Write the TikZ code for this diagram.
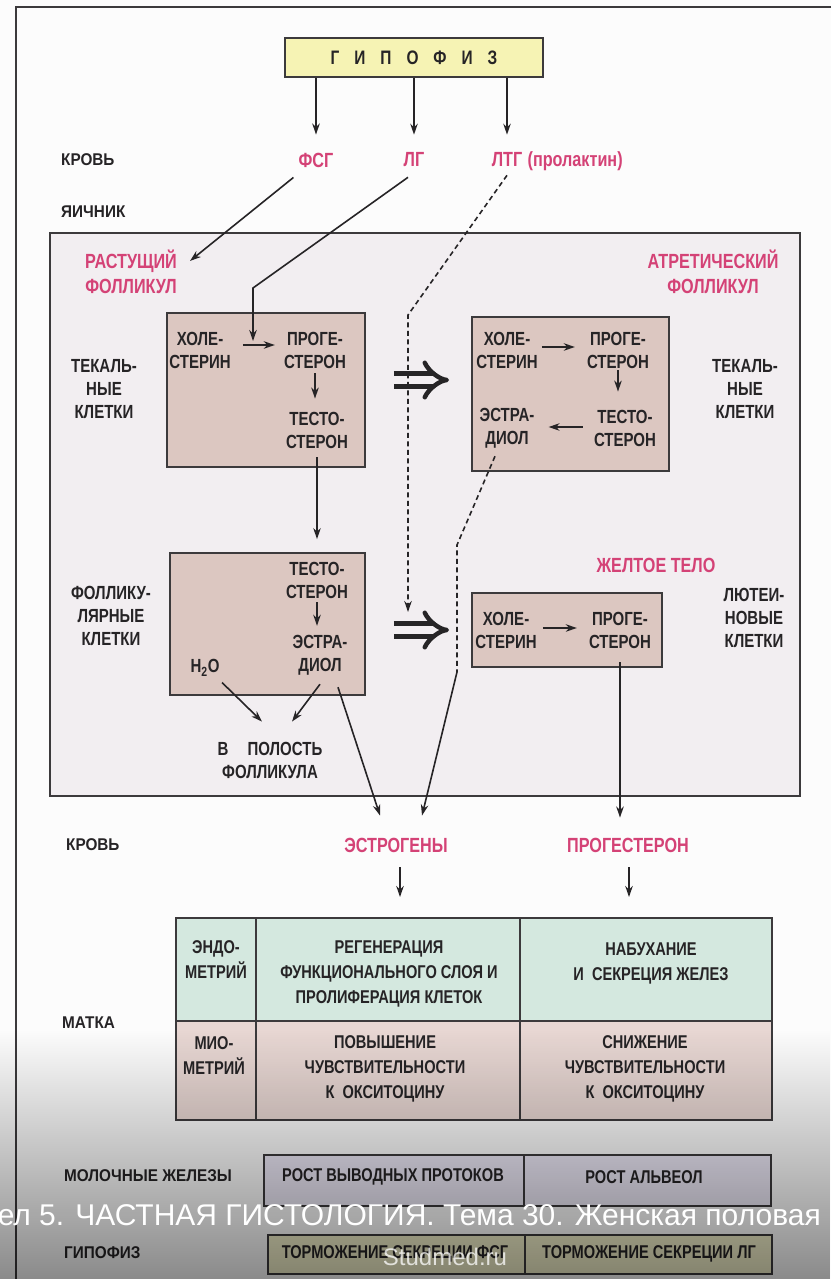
\documentclass[tikz,border=0pt]{standalone}
\usepackage{fontspec}
\setmainfont{Liberation Sans}
\newfontfamily\cond{Liberation Sans}[FakeStretch=0.79]
\newfontfamily\sidef{Liberation Sans}[FakeStretch=0.9]
\usetikzlibrary{arrows.meta,positioning,fadings}

\definecolor{Txt}{RGB}{38,36,38}
\definecolor{Edge}{RGB}{60,58,60}
\definecolor{Pk}{RGB}{212,66,118}
\definecolor{Bg}{RGB}{252,252,252}
\definecolor{Ov}{RGB}{242,238,241}
\definecolor{Cell}{RGB}{220,199,193}
\definecolor{Yel}{RGB}{246,243,180}
\definecolor{Mint}{RGB}{212,232,223}
\definecolor{Rose}{RGB}{232,215,211}
\definecolor{Lav}{RGB}{236,232,246}
\definecolor{Olv}{RGB}{240,238,200}

\newcommand\gap{\hspace{15pt}}

% dark band at the bottom
\tikzfading[name=fadedown, top color=transparent!100, bottom color=transparent!0]

\tikzset{
  lbl/.style={font=\cond\bfseries\fontsize{19}{23}\selectfont, text=Txt, align=center, inner sep=0pt},
  pk/.style={lbl, font=\cond\bfseries\fontsize{20.5}{25}\selectfont, text=Pk},
  side/.style={lbl, font=\sidef\bfseries\fontsize{17}{20}\selectfont, anchor=west},
  cell/.style={lbl, font=\cond\bfseries\fontsize{18.5}{25}\selectfont},
  cellbox/.style={draw=Edge, line width=1.8pt},
  hbox/.style={draw=Edge, line width=1.8pt, fill=Cell, inner sep=0pt},
  arr/.style={line width=1.6pt, draw=Txt, -{Stealth[length=11pt,width=7.5pt]}},
  dsh/.style={line width=1.6pt, draw=Txt, dash pattern=on 5pt off 3.5pt},
  impl/.style={draw=Txt, line width=4.5pt, double=Ov, double distance=8.5pt, -{Implies}},
}

\begin{document}
\begin{tikzpicture}[x=1pt,y=-1pt]
  \clip (0,0) rectangle (831,1279);
  \fill[Bg] (0,0) rectangle (831,1279);
  \draw[Edge, line width=1.6pt] (831,7) -- (16,7) -- (16,1279);

  % pituitary and hormones in blood
  \node[hbox, fill=Yel, minimum width=258pt, minimum height=39pt,
        font=\cond\bfseries\fontsize{19.5}{22}\selectfont, text=Txt] (gip) at (414,57.5)
        {Г\gap И\gap П\gap О\gap Ф\gap И\gap З};
  \node[side] (krovA) at (61,160) {КРОВЬ};
  \node[side] (yaich) at (61,212) {ЯИЧНИК};
  \node[pk] (fsg) at (316,160) {ФСГ};
  \node[pk] (lg) at (414,160) {ЛГ};
  \node[pk] (ltg) at (507,160) {ЛТГ};
  \node[pk, anchor=base west] (prl) at ([xshift=5pt]ltg.base east) {(пролактин)};
  \foreach \h in {fsg,lg,ltg}
    \draw[arr, shorten >=18pt] (gip.south -| \h) -- (\h.north);

  % ovary
  \fill[Ov] (50,233) rectangle (800,796);
  \draw[Edge, line width=1.8pt] (50,233) rectangle (800,796);

  % growing follicle, theca cells
  \node[pk] (rast) at (131,272) {РАСТУЩИЙ\\ФОЛЛИКУЛ};
  \node[lbl] (tekA) at (104,389) {ТЕКАЛЬ-\\НЫЕ\\КЛЕТКИ};
  \node[hbox, minimum width=198pt, minimum height=154pt] (thecaA) at (266,390) {};
  \node[lbl] (cholA) at (200,350) {ХОЛЕ-\\СТЕРИН};
  \node[lbl] (progA) at (315,350) {ПРОГЕ-\\СТЕРОН};
  \node[lbl] (testA) at (317,430) {ТЕСТО-\\СТЕРОН};
  \draw[arr, shorten <=12pt, shorten >=9pt] ([yshift=5pt]cholA.east) -- ([yshift=5pt]progA.west);
  \draw[arr, shorten <=5pt, shorten >=13pt] (progA.south) -- (progA.south |- testA.north);

  % follicular cells
  \node[lbl] (folLbl) at (111,616) {ФОЛЛИКУ-\\ЛЯРНЫЕ\\КЛЕТКИ};
  \node[hbox, minimum width=195pt, minimum height=142pt] (fol) at (267.5,624) {};
  \node[lbl] (testC) at (317,580) {ТЕСТО-\\СТЕРОН};
  \node[lbl] (estrC) at (320,655) {ЭСТРА-\\ДИОЛ};
  \node[lbl] (h2o) at (205,668) {H\textsubscript{2}O};
  \node[lbl] (cav) at (270,760) {В\quad ПОЛОСТЬ\\ФОЛЛИКУЛА};
  \draw[arr, shorten <=4pt, shorten >=9pt] (testC.south) -- (testC.south |- estrC.north);
  \draw[arr, shorten <=9pt, shorten >=13pt] (testA.south) -- (testA.south |- fol.north);
  \draw[arr] ([shift={(17,6)}]h2o.south) -- ([shift={(-8,-20)}]cav.north);
  \draw[arr] ([shift={(0,9)}]estrC.south) -- ([shift={(22,-20)}]cav.north);

  % atretic follicle
  \node[pk] (atr) at (713,272) {АТРЕТИЧЕСКИЙ\\ФОЛЛИКУЛ};
  \node[lbl] (tekB) at (745,389) {ТЕКАЛЬ-\\НЫЕ\\КЛЕТКИ};
  \node[hbox, minimum width=197pt, minimum height=154pt] (thecaB) at (570.5,394) {};
  \node[lbl] (cholB) at (507,350) {ХОЛЕ-\\СТЕРИН};
  \node[lbl] (progB) at (618,350) {ПРОГЕ-\\СТЕРОН};
  \node[lbl] (estrB) at (507,428) {ЭСТРА-\\ДИОЛ};
  \node[lbl] (testB) at (625,428) {ТЕСТО-\\СТЕРОН};
  \draw[arr, shorten <=4pt, shorten >=12pt] ([yshift=3pt]cholB.east) -- ([yshift=3pt]progB.west);
  \draw[arr, shorten <=2pt, shorten >=18pt] (progB.south) -- (progB.south |- testB.north);
  \draw[arr, shorten <=11pt, shorten >=14pt] ([yshift=1pt]testB.west) -- ([yshift=1pt]estrB.east);

  % corpus luteum
  \node[pk] (zhelt) at (656,565) {ЖЕЛТОЕ ТЕЛО};
  \node[lbl] (lutLbl) at (754,618) {ЛЮТЕИ-\\НОВЫЕ\\КЛЕТКИ};
  \node[hbox, minimum width=190pt, minimum height=74pt] (lut) at (567,630) {};
  \node[lbl] (cholC) at (506,630) {ХОЛЕ-\\СТЕРИН};
  \node[lbl] (progC) at (620,630) {ПРОГЕ-\\СТЕРОН};
  \draw[arr, shorten <=6pt, shorten >=12pt] ([yshift=2pt]cholC.east) -- ([yshift=2pt]progC.west);

  % transitions
  \draw[impl, shorten <=28pt, shorten >=22pt] ([yshift=10pt]thecaA.east) -- ([yshift=10pt]thecaA.east -| thecaB.west);
  \draw[impl, shorten <=28pt, shorten >=22pt] ([yshift=-6pt]fol.east) -- ([yshift=-6pt]fol.east -| lut.west);

  % hormones from pituitary into ovary
  \coordinate (lgbend) at (253,288);
  \coordinate (lgin) at (253,341);
  \coordinate (ltgbend) at (408,315);
  \coordinate (ltgend) at (408,612);
  \draw[arr] ([shift={(-5,10)}]fsg.south west) -- ([shift={(13,11)}]rast.north east);
  \draw[arr] ([shift={(-6,10)}]lg.south) -- (lgbend) -- (lgin);
  \draw[dsh, -{Stealth[length=11pt,width=7.5pt]}] ([shift={(0,8)}]ltg.south) -- (ltgbend) -- (ltgend);

  % hormones into blood
  \node[side] (krovB) at (66,845) {КРОВЬ};
  \node[pk] (estro) at (396,845) {ЭСТРОГЕНЫ};
  \node[pk] (progBl) at (628,845) {ПРОГЕСТЕРОН};
  \coordinate (eb1) at (457,545);
  \coordinate (eb2) at (457,672);
  \draw[dsh] ([shift={(-12,8)}]estrB.south) -- (eb1) -- (eb2);
  \draw[arr] (eb2) -- ([shift={(26,-22)}]estro.north);
  \draw[arr] ([shift={(18,12)}]estrC.south) -- ([shift={(-16,-22)}]estro.north);
  \draw[arr, shorten <=14pt, shorten >=20pt] (progC.south) -- (progC.south |- progBl.north);

  % uterus
  \coordinate (utop) at (176,918);
  \draw[arr, shorten <=15pt, shorten >=21pt] ([xshift=4pt]estro.south) -- ([xshift=4pt]estro.south |- utop);
  \draw[arr, shorten <=15pt, shorten >=21pt] ([xshift=1pt]progBl.south) -- ([xshift=1pt]progBl.south |- utop);
  \node[side] (matka) at (62,1023) {МАТКА};
  \filldraw[cellbox, fill=Mint] (176,918) rectangle (772,1021);
  \filldraw[cellbox, fill=Rose] (176,1021) rectangle (772,1120);
  \draw[cellbox] (256,918) -- (256,1120) (520,918) -- (520,1120);
  \node[cell] (endo) at (216,960) {ЭНДО-\\МЕТРИЙ};
  \node[cell] (regen) at (389,974) {РЕГЕНЕРАЦИЯ\\ФУНКЦИОНАЛЬНОГО СЛОЯ И\\ПРОЛИФЕРАЦИЯ КЛЕТОК};
  \node[cell] (nabuh) at (651,963) {НАБУХАНИЕ\\И\ \ СЕКРЕЦИЯ ЖЕЛЕЗ};
  \node[cell] (mio) at (214,1056) {МИО-\\МЕТРИЙ};
  \node[cell] (povysh) at (385,1069) {ПОВЫШЕНИЕ\\ЧУВСТВИТЕЛЬНОСТИ\\К\ \ ОКСИТОЦИНУ};
  \node[cell] (snizh) at (645,1069) {СНИЖЕНИЕ\\ЧУВСТВИТЕЛЬНОСТИ\\К\ \ ОКСИТОЦИНУ};

  % mammary glands
  \node[side] (moloch) at (64,1176) {МОЛОЧНЫЕ ЖЕЛЕЗЫ};
  \filldraw[cellbox, fill=Lav] (264,1155) rectangle (771,1206);
  \draw[cellbox] (524,1155) -- (524,1206);
  \node[cell] (protok) at (393,1177) {РОСТ ВЫВОДНЫХ ПРОТОКОВ};
  \node[cell] (alv) at (644,1177) {РОСТ АЛЬВЕОЛ};

  % pituitary feedback
  \node[side] (gipB) at (64,1253) {ГИПОФИЗ};
  \filldraw[cellbox, fill=Olv] (268,1235) rectangle (772,1274);
  \draw[cellbox] (525,1235) -- (525,1274);
  \node[cell] (tfsg) at (395,1254) {ТОРМОЖЕНИЕ СЕКРЕЦИИ ФСГ};
  \node[cell] (tlg) at (649,1254) {ТОРМОЖЕНИЕ СЕКРЕЦИИ ЛГ};

  % caption band
  \fill[black, path fading=fadedown, fill opacity=0.45] (0,1030) rectangle (831,1279);
  \node[anchor=east, inner sep=0pt, text=white, font=\fontsize{30}{34}\selectfont] (capt) at (821,1215)
       {ел 5. ЧАСТНАЯ ГИСТОЛОГИЯ. Тема 30. Женская половая};
  \node[inner sep=0pt, text=white, opacity=0.75, font=\fontsize{24}{28}\selectfont] (wm) at (445,1257) {Studmed.ru};
\end{tikzpicture}
\end{document}
